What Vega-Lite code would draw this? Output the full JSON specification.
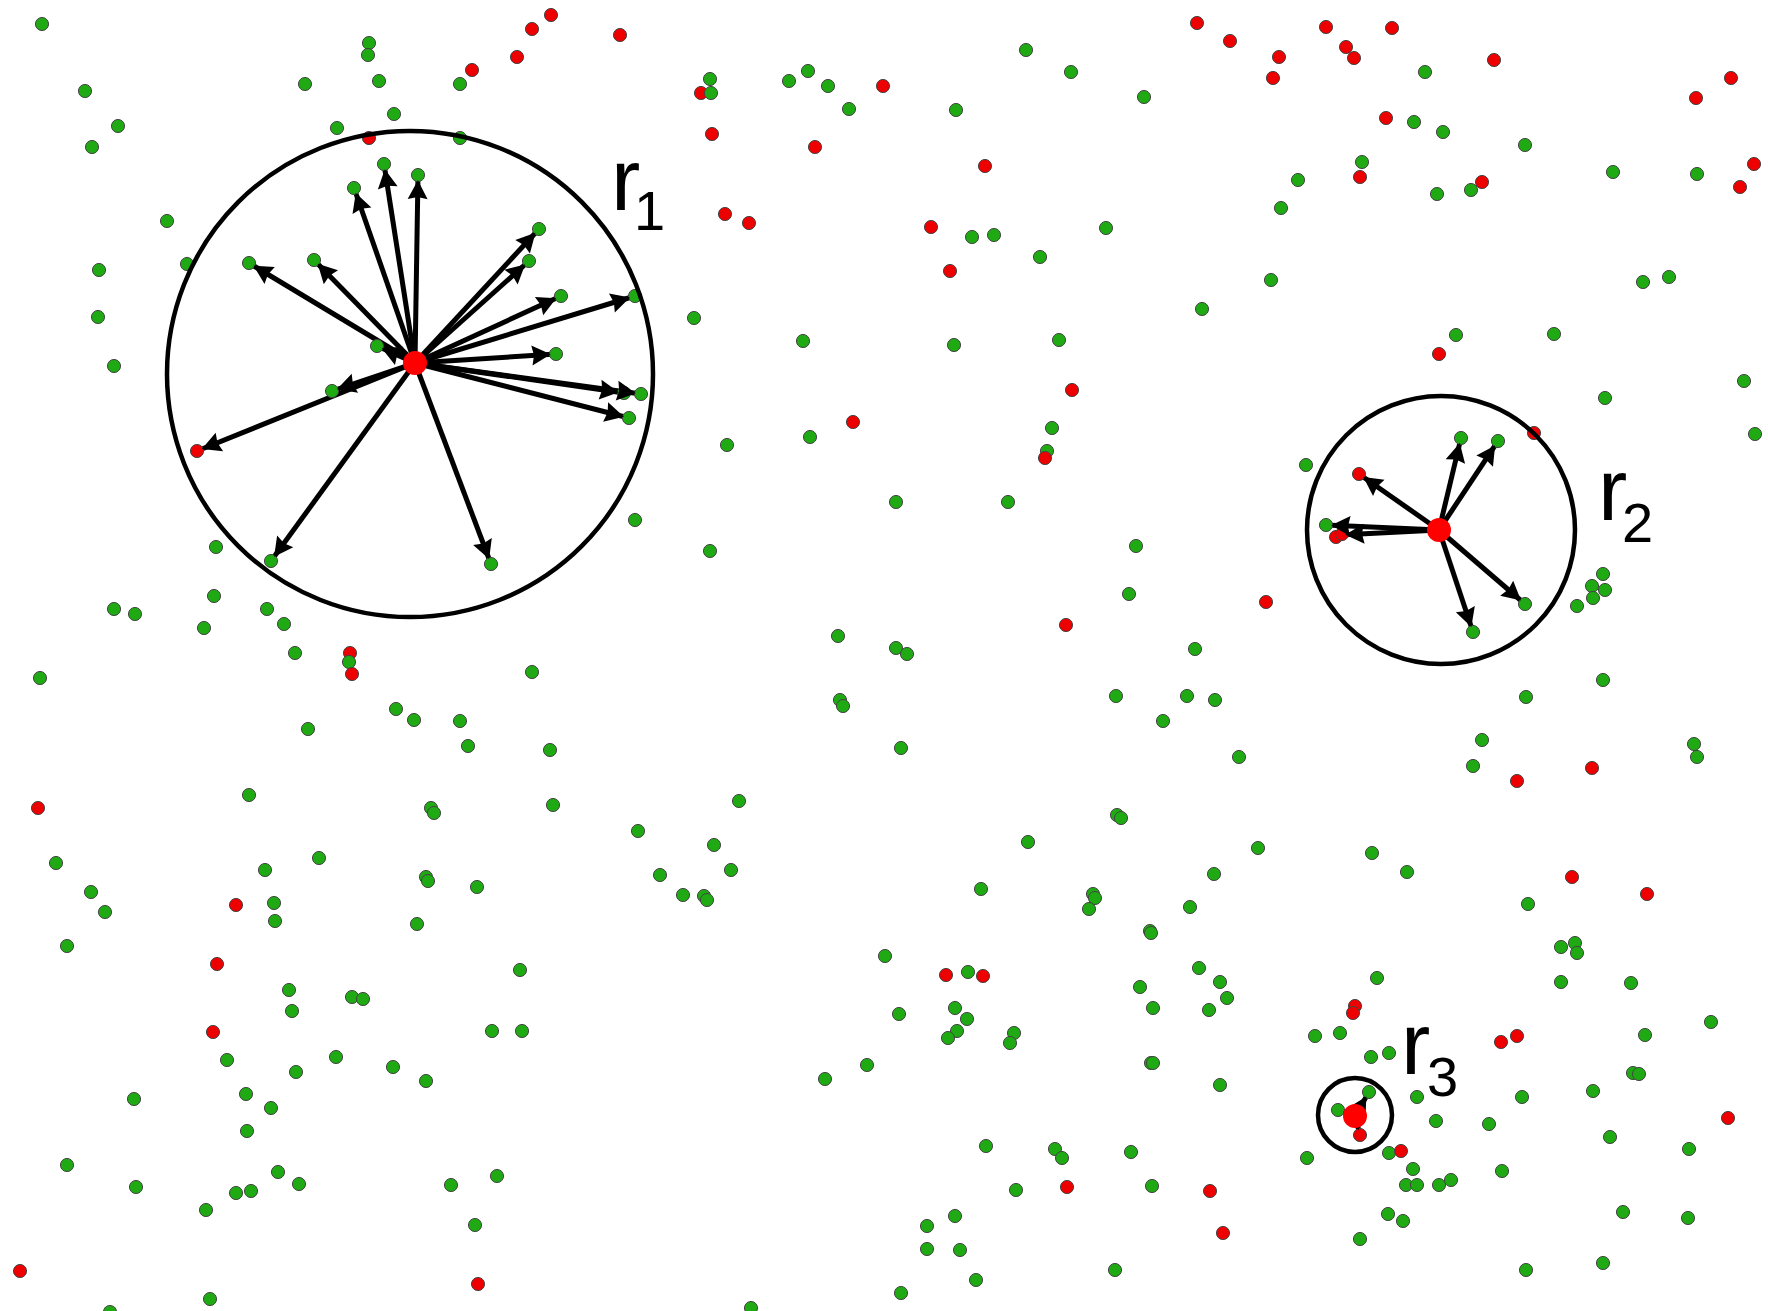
{
"$schema":"https://vega.github.io/schema/vega-lite/v6.json",
"width":1768,"height":1311,"autosize":{"type":"none"},"padding":0,"background":"white",
"config":{"view":{"stroke":null}},
"datasets":{
"pts":[
{"x":42,"y":24,"c":"g"},{"x":85,"y":91,"c":"g"},{"x":118,"y":126,"c":"g"},{"x":92,"y":147,"c":"g"},{"x":369,"y":43,"c":"g"},{"x":368,"y":55,"c":"g"},{"x":305,"y":84,"c":"g"},{"x":379,"y":81,"c":"g"},{"x":394,"y":114,"c":"g"},{"x":337,"y":128,"c":"g"},{"x":369,"y":138,"c":"r"},{"x":384,"y":164,"c":"g"},{"x":418,"y":175,"c":"g"},{"x":354,"y":188,"c":"g"},{"x":167,"y":221,"c":"g"},{"x":187,"y":264,"c":"g"},{"x":249,"y":263,"c":"g"},{"x":314,"y":260,"c":"g"},{"x":99,"y":270,"c":"g"},{"x":98,"y":317,"c":"g"},{"x":114,"y":366,"c":"g"},{"x":377,"y":346,"c":"g"},{"x":332,"y":391,"c":"g"},
{"x":551,"y":15,"c":"r"},{"x":532,"y":29,"c":"r"},{"x":620,"y":35,"c":"r"},{"x":517,"y":57,"c":"r"},{"x":472,"y":70,"c":"r"},{"x":460,"y":84,"c":"g"},{"x":710,"y":79,"c":"g"},{"x":701,"y":93,"c":"r"},{"x":711,"y":93,"c":"g"},{"x":789,"y":81,"c":"g"},{"x":808,"y":71,"c":"g"},{"x":828,"y":86,"c":"g"},{"x":883,"y":86,"c":"r"},{"x":849,"y":109,"c":"g"},{"x":712,"y":134,"c":"r"},{"x":815,"y":147,"c":"r"},{"x":460,"y":138,"c":"g"},{"x":725,"y":214,"c":"r"},{"x":749,"y":223,"c":"r"},{"x":539,"y":229,"c":"g"},{"x":529,"y":261,"c":"g"},{"x":561,"y":296,"c":"g"},{"x":635,"y":296,"c":"g"},{"x":694,"y":318,"c":"g"},{"x":803,"y":341,"c":"g"},{"x":556,"y":354,"c":"g"},{"x":624,"y":393,"c":"g"},{"x":641,"y":394,"c":"g"},{"x":629,"y":418,"c":"g"},{"x":853,"y":422,"c":"r"},{"x":810,"y":437,"c":"g"},
{"x":1197,"y":23,"c":"r"},{"x":1230,"y":41,"c":"r"},{"x":1279,"y":57,"c":"r"},{"x":1273,"y":78,"c":"r"},{"x":1326,"y":27,"c":"r"},{"x":1026,"y":50,"c":"g"},{"x":1071,"y":72,"c":"g"},{"x":1144,"y":97,"c":"g"},{"x":956,"y":110,"c":"g"},{"x":985,"y":166,"c":"r"},{"x":931,"y":227,"c":"r"},{"x":972,"y":237,"c":"g"},{"x":994,"y":235,"c":"g"},{"x":1040,"y":257,"c":"g"},{"x":1106,"y":228,"c":"g"},{"x":1298,"y":180,"c":"g"},{"x":1281,"y":208,"c":"g"},{"x":1271,"y":280,"c":"g"},{"x":1202,"y":309,"c":"g"},{"x":950,"y":271,"c":"r"},{"x":954,"y":345,"c":"g"},{"x":1059,"y":340,"c":"g"},{"x":1072,"y":390,"c":"r"},{"x":1052,"y":428,"c":"g"},
{"x":1392,"y":28,"c":"r"},{"x":1346,"y":47,"c":"r"},{"x":1354,"y":58,"c":"r"},{"x":1494,"y":60,"c":"r"},{"x":1425,"y":72,"c":"g"},{"x":1386,"y":118,"c":"r"},{"x":1414,"y":122,"c":"g"},{"x":1443,"y":132,"c":"g"},{"x":1525,"y":145,"c":"g"},{"x":1362,"y":162,"c":"g"},{"x":1360,"y":177,"c":"r"},{"x":1437,"y":194,"c":"g"},{"x":1471,"y":190,"c":"g"},{"x":1482,"y":182,"c":"r"},{"x":1613,"y":172,"c":"g"},{"x":1731,"y":78,"c":"r"},{"x":1696,"y":98,"c":"r"},{"x":1697,"y":174,"c":"g"},{"x":1754,"y":164,"c":"r"},{"x":1740,"y":187,"c":"r"},{"x":1643,"y":282,"c":"g"},{"x":1669,"y":277,"c":"g"},{"x":1456,"y":335,"c":"g"},{"x":1439,"y":354,"c":"r"},{"x":1554,"y":334,"c":"g"},{"x":1744,"y":381,"c":"g"},{"x":1605,"y":398,"c":"g"},{"x":1755,"y":434,"c":"g"},{"x":1461,"y":438,"c":"g"},{"x":1498,"y":441,"c":"g"},{"x":1534,"y":433,"c":"r"},
{"x":197,"y":451,"c":"r"},{"x":216,"y":547,"c":"g"},{"x":271,"y":561,"c":"g"},{"x":214,"y":596,"c":"g"},{"x":114,"y":609,"c":"g"},{"x":135,"y":614,"c":"g"},{"x":204,"y":628,"c":"g"},{"x":267,"y":609,"c":"g"},{"x":284,"y":624,"c":"g"},{"x":295,"y":653,"c":"g"},{"x":350,"y":653,"c":"r"},{"x":349,"y":662,"c":"g"},{"x":352,"y":674,"c":"r"},{"x":40,"y":678,"c":"g"},{"x":396,"y":709,"c":"g"},{"x":414,"y":720,"c":"g"},{"x":308,"y":729,"c":"g"},{"x":249,"y":795,"c":"g"},{"x":38,"y":808,"c":"r"},{"x":431,"y":808,"c":"g"},{"x":434,"y":813,"c":"g"},{"x":56,"y":863,"c":"g"},{"x":265,"y":870,"c":"g"},{"x":319,"y":858,"c":"g"},{"x":426,"y":877,"c":"g"},{"x":428,"y":881,"c":"g"},
{"x":491,"y":564,"c":"g"},{"x":727,"y":445,"c":"g"},{"x":635,"y":520,"c":"g"},{"x":710,"y":551,"c":"g"},{"x":838,"y":636,"c":"g"},{"x":532,"y":672,"c":"g"},{"x":840,"y":700,"c":"g"},{"x":843,"y":706,"c":"g"},{"x":460,"y":721,"c":"g"},{"x":468,"y":746,"c":"g"},{"x":550,"y":750,"c":"g"},{"x":553,"y":805,"c":"g"},{"x":739,"y":801,"c":"g"},{"x":638,"y":831,"c":"g"},{"x":714,"y":845,"c":"g"},{"x":731,"y":870,"c":"g"},{"x":660,"y":875,"c":"g"},
{"x":1047,"y":451,"c":"g"},{"x":1045,"y":458,"c":"r"},{"x":896,"y":502,"c":"g"},{"x":1008,"y":502,"c":"g"},{"x":1306,"y":465,"c":"g"},{"x":1326,"y":525,"c":"g"},{"x":1136,"y":546,"c":"g"},{"x":1129,"y":594,"c":"g"},{"x":1066,"y":625,"c":"r"},{"x":1266,"y":602,"c":"r"},{"x":896,"y":648,"c":"g"},{"x":907,"y":654,"c":"g"},{"x":1195,"y":649,"c":"g"},{"x":1116,"y":696,"c":"g"},{"x":1187,"y":696,"c":"g"},{"x":1215,"y":700,"c":"g"},{"x":1163,"y":721,"c":"g"},{"x":901,"y":748,"c":"g"},{"x":1239,"y":757,"c":"g"},{"x":1117,"y":815,"c":"g"},{"x":1121,"y":818,"c":"g"},{"x":1028,"y":842,"c":"g"},{"x":1258,"y":848,"c":"g"},{"x":1214,"y":874,"c":"g"},
{"x":1359,"y":474,"c":"r"},{"x":1336,"y":537,"c":"r"},{"x":1342,"y":534,"c":"r"},{"x":1525,"y":604,"c":"g"},{"x":1473,"y":632,"c":"g"},{"x":1603,"y":574,"c":"g"},{"x":1592,"y":586,"c":"g"},{"x":1605,"y":590,"c":"g"},{"x":1593,"y":598,"c":"g"},{"x":1577,"y":606,"c":"g"},{"x":1603,"y":680,"c":"g"},{"x":1526,"y":697,"c":"g"},{"x":1482,"y":740,"c":"g"},{"x":1473,"y":766,"c":"g"},{"x":1517,"y":781,"c":"r"},{"x":1592,"y":768,"c":"r"},{"x":1694,"y":744,"c":"g"},{"x":1697,"y":757,"c":"g"},{"x":1372,"y":853,"c":"g"},{"x":1407,"y":872,"c":"g"},{"x":1572,"y":877,"c":"r"},
{"x":91,"y":892,"c":"g"},{"x":105,"y":912,"c":"g"},{"x":67,"y":946,"c":"g"},{"x":236,"y":905,"c":"r"},{"x":274,"y":903,"c":"g"},{"x":275,"y":921,"c":"g"},{"x":417,"y":924,"c":"g"},{"x":217,"y":964,"c":"r"},{"x":289,"y":990,"c":"g"},{"x":292,"y":1011,"c":"g"},{"x":352,"y":997,"c":"g"},{"x":363,"y":999,"c":"g"},{"x":213,"y":1032,"c":"r"},{"x":227,"y":1060,"c":"g"},{"x":296,"y":1072,"c":"g"},{"x":336,"y":1057,"c":"g"},{"x":393,"y":1067,"c":"g"},{"x":426,"y":1081,"c":"g"},{"x":134,"y":1099,"c":"g"},{"x":246,"y":1094,"c":"g"},{"x":271,"y":1108,"c":"g"},{"x":247,"y":1131,"c":"g"},{"x":67,"y":1165,"c":"g"},{"x":136,"y":1187,"c":"g"},{"x":278,"y":1172,"c":"g"},{"x":299,"y":1184,"c":"g"},{"x":236,"y":1193,"c":"g"},{"x":251,"y":1191,"c":"g"},{"x":206,"y":1210,"c":"g"},{"x":20,"y":1271,"c":"r"},{"x":210,"y":1299,"c":"g"},{"x":110,"y":1312,"c":"g"},
{"x":477,"y":887,"c":"g"},{"x":683,"y":895,"c":"g"},{"x":704,"y":896,"c":"g"},{"x":707,"y":900,"c":"g"},{"x":520,"y":970,"c":"g"},{"x":492,"y":1031,"c":"g"},{"x":522,"y":1031,"c":"g"},{"x":885,"y":956,"c":"g"},{"x":825,"y":1079,"c":"g"},{"x":867,"y":1065,"c":"g"},{"x":451,"y":1185,"c":"g"},{"x":497,"y":1176,"c":"g"},{"x":475,"y":1225,"c":"g"},{"x":478,"y":1284,"c":"r"},{"x":751,"y":1308,"c":"g"},
{"x":981,"y":889,"c":"g"},{"x":1093,"y":894,"c":"g"},{"x":1095,"y":898,"c":"g"},{"x":1089,"y":909,"c":"g"},{"x":1190,"y":907,"c":"g"},{"x":1150,"y":931,"c":"g"},{"x":1151,"y":933,"c":"g"},{"x":946,"y":975,"c":"r"},{"x":968,"y":972,"c":"g"},{"x":983,"y":976,"c":"r"},{"x":899,"y":1014,"c":"g"},{"x":955,"y":1008,"c":"g"},{"x":967,"y":1019,"c":"g"},{"x":957,"y":1031,"c":"g"},{"x":948,"y":1038,"c":"g"},{"x":1014,"y":1033,"c":"g"},{"x":1010,"y":1043,"c":"g"},{"x":1140,"y":987,"c":"g"},{"x":1153,"y":1008,"c":"g"},{"x":1199,"y":968,"c":"g"},{"x":1220,"y":982,"c":"g"},{"x":1227,"y":998,"c":"g"},{"x":1209,"y":1010,"c":"g"},{"x":1315,"y":1036,"c":"g"},{"x":1151,"y":1063,"c":"g"},{"x":1153,"y":1063,"c":"g"},{"x":1220,"y":1085,"c":"g"},{"x":986,"y":1146,"c":"g"},{"x":1055,"y":1149,"c":"g"},{"x":1062,"y":1158,"c":"g"},{"x":1131,"y":1152,"c":"g"},{"x":1307,"y":1158,"c":"g"},{"x":1016,"y":1190,"c":"g"},{"x":1067,"y":1187,"c":"r"},{"x":1152,"y":1186,"c":"g"},{"x":1210,"y":1191,"c":"r"},{"x":1223,"y":1233,"c":"r"},{"x":955,"y":1216,"c":"g"},{"x":927,"y":1226,"c":"g"},{"x":927,"y":1249,"c":"g"},{"x":960,"y":1250,"c":"g"},{"x":976,"y":1280,"c":"g"},{"x":901,"y":1293,"c":"g"},{"x":1115,"y":1270,"c":"g"},
{"x":1647,"y":894,"c":"r"},{"x":1528,"y":904,"c":"g"},{"x":1561,"y":947,"c":"g"},{"x":1575,"y":943,"c":"g"},{"x":1577,"y":953,"c":"g"},{"x":1561,"y":982,"c":"g"},{"x":1631,"y":983,"c":"g"},{"x":1377,"y":978,"c":"g"},{"x":1355,"y":1006,"c":"r"},{"x":1353,"y":1013,"c":"r"},{"x":1340,"y":1033,"c":"g"},{"x":1371,"y":1057,"c":"g"},{"x":1389,"y":1053,"c":"g"},{"x":1711,"y":1022,"c":"g"},{"x":1645,"y":1035,"c":"g"},{"x":1501,"y":1042,"c":"r"},{"x":1517,"y":1036,"c":"r"},{"x":1633,"y":1073,"c":"g"},{"x":1639,"y":1074,"c":"g"},{"x":1593,"y":1091,"c":"g"},{"x":1522,"y":1097,"c":"g"},{"x":1417,"y":1097,"c":"g"},{"x":1369,"y":1092,"c":"g"},{"x":1338,"y":1110,"c":"g"},{"x":1360,"y":1135,"c":"r"},{"x":1436,"y":1121,"c":"g"},{"x":1489,"y":1124,"c":"g"},{"x":1728,"y":1118,"c":"r"},{"x":1610,"y":1137,"c":"g"},{"x":1689,"y":1149,"c":"g"},{"x":1389,"y":1153,"c":"g"},{"x":1401,"y":1151,"c":"r"},{"x":1413,"y":1169,"c":"g"},{"x":1406,"y":1185,"c":"g"},{"x":1417,"y":1185,"c":"g"},{"x":1439,"y":1185,"c":"g"},{"x":1451,"y":1180,"c":"g"},{"x":1502,"y":1171,"c":"g"},{"x":1388,"y":1214,"c":"g"},{"x":1403,"y":1221,"c":"g"},{"x":1623,"y":1212,"c":"g"},{"x":1688,"y":1218,"c":"g"},{"x":1360,"y":1239,"c":"g"},{"x":1526,"y":1270,"c":"g"},{"x":1603,"y":1263,"c":"g"}
],
"arrows":[
{"cx":415,"cy":363,"tx":384,"ty":164},{"cx":415,"cy":363,"tx":418,"ty":175},{"cx":415,"cy":363,"tx":354,"ty":188},{"cx":415,"cy":363,"tx":249,"ty":263},{"cx":415,"cy":363,"tx":314,"ty":260},{"cx":415,"cy":363,"tx":377,"ty":346},{"cx":415,"cy":363,"tx":332,"ty":391},{"cx":415,"cy":363,"tx":197,"ty":451},{"cx":415,"cy":363,"tx":271,"ty":561},{"cx":415,"cy":363,"tx":491,"ty":564},{"cx":415,"cy":363,"tx":539,"ty":229},{"cx":415,"cy":363,"tx":529,"ty":261},{"cx":415,"cy":363,"tx":561,"ty":296},{"cx":415,"cy":363,"tx":635,"ty":296},{"cx":415,"cy":363,"tx":556,"ty":354},{"cx":415,"cy":363,"tx":624,"ty":393},{"cx":415,"cy":363,"tx":641,"ty":394},{"cx":415,"cy":363,"tx":629,"ty":418},
{"cx":1439,"cy":530,"tx":1359,"ty":474},{"cx":1439,"cy":530,"tx":1461,"ty":438},{"cx":1439,"cy":530,"tx":1498,"ty":441},{"cx":1439,"cy":530,"tx":1326,"ty":525},{"cx":1439,"cy":530,"tx":1340,"ty":535},{"cx":1439,"cy":530,"tx":1525,"ty":604},{"cx":1439,"cy":530,"tx":1473,"ty":632},
{"cx":1355,"cy":1116,"tx":1369,"ty":1092},{"cx":1355,"cy":1116,"tx":1338,"ty":1110},{"cx":1355,"cy":1116,"tx":1360,"ty":1135}
],
"rings":[{"x":410,"y":374,"r":243},{"x":1441,"y":530,"r":134},{"x":1355,"y":1115,"r":37}],
"centers":[{"x":415,"y":363},{"x":1439,"y":530},{"x":1355,"y":1116}],
"labels":[{"rx":611,"ry":210,"main":"r","sx":634,"sy":230,"sub":"1"},{"rx":1598,"ry":520,"main":"r","sx":1622,"sy":542,"sub":"2"},{"rx":1401,"ry":1074,"main":"r","sx":1427,"sy":1096,"sub":"3"}]
},
"layer":[
{"data":{"name":"arrows"},"mark":{"type":"rule","strokeWidth":5,"color":"black"},
 "encoding":{"x":{"field":"cx","type":"quantitative","scale":{"domain":[0,1768],"nice":false,"zero":false},"axis":null},
 "y":{"field":"cy","type":"quantitative","scale":{"domain":[0,1311],"nice":false,"zero":false,"reverse":true},"axis":null},
 "x2":{"field":"tx"},"y2":{"field":"ty"}}},
{"data":{"name":"pts"},"mark":{"type":"circle","size":172,"stroke":"#444444","strokeWidth":1,"opacity":1},
 "encoding":{"x":{"field":"x","type":"quantitative","scale":{"domain":[0,1768],"nice":false,"zero":false},"axis":null},
 "y":{"field":"y","type":"quantitative","scale":{"domain":[0,1311],"nice":false,"zero":false,"reverse":true},"axis":null},
 "fill":{"field":"c","type":"nominal","scale":{"domain":["g","r"],"range":["#1FAA14","#EE0000"]},"legend":null}}},
{"data":{"name":"rings"},"mark":{"type":"point","shape":"circle","filled":false,"stroke":"black","strokeWidth":4.5,"opacity":1},
 "encoding":{"x":{"field":"x","type":"quantitative","scale":{"domain":[0,1768],"nice":false,"zero":false},"axis":null},
 "y":{"field":"y","type":"quantitative","scale":{"domain":[0,1311],"nice":false,"zero":false,"reverse":true},"axis":null},
 "size":{"field":"r","type":"quantitative","scale":{"type":"pow","exponent":2,"domain":[0,1000],"range":[0,4000000],"zero":true},"legend":null}}},
{"data":{"name":"arrows"},"transform":[{"calculate":"atan2(datum.ty - datum.cy, datum.tx - datum.cx) * 180 / PI","as":"ang"}],
 "mark":{"type":"point","shape":"M-0.5,0L-2.3,-0.95L-2.1,0L-2.3,0.95Z","filled":true,"color":"black","size":441,"opacity":1,"strokeWidth":0},
 "encoding":{"x":{"field":"tx","type":"quantitative","scale":{"domain":[0,1768],"nice":false,"zero":false},"axis":null},
 "y":{"field":"ty","type":"quantitative","scale":{"domain":[0,1311],"nice":false,"zero":false,"reverse":true},"axis":null},
 "angle":{"field":"ang","type":"quantitative","scale":null}}},
{"data":{"name":"centers"},"mark":{"type":"circle","size":576,"color":"#FF0000","opacity":1,"strokeWidth":0},
 "encoding":{"x":{"field":"x","type":"quantitative","scale":{"domain":[0,1768],"nice":false,"zero":false},"axis":null},
 "y":{"field":"y","type":"quantitative","scale":{"domain":[0,1311],"nice":false,"zero":false,"reverse":true},"axis":null}}},
{"data":{"name":"labels"},"mark":{"type":"text","font":"Liberation Sans","fontSize":88,"align":"left","baseline":"alphabetic","color":"black"},
 "encoding":{"x":{"field":"rx","type":"quantitative","scale":{"domain":[0,1768],"nice":false,"zero":false},"axis":null},
 "y":{"field":"ry","type":"quantitative","scale":{"domain":[0,1311],"nice":false,"zero":false,"reverse":true},"axis":null},
 "text":{"field":"main"}}},
{"data":{"name":"labels"},"mark":{"type":"text","font":"Liberation Sans","fontSize":56,"align":"left","baseline":"alphabetic","color":"black"},
 "encoding":{"x":{"field":"sx","type":"quantitative","scale":{"domain":[0,1768],"nice":false,"zero":false},"axis":null},
 "y":{"field":"sy","type":"quantitative","scale":{"domain":[0,1311],"nice":false,"zero":false,"reverse":true},"axis":null},
 "text":{"field":"sub"}}}
]
}
